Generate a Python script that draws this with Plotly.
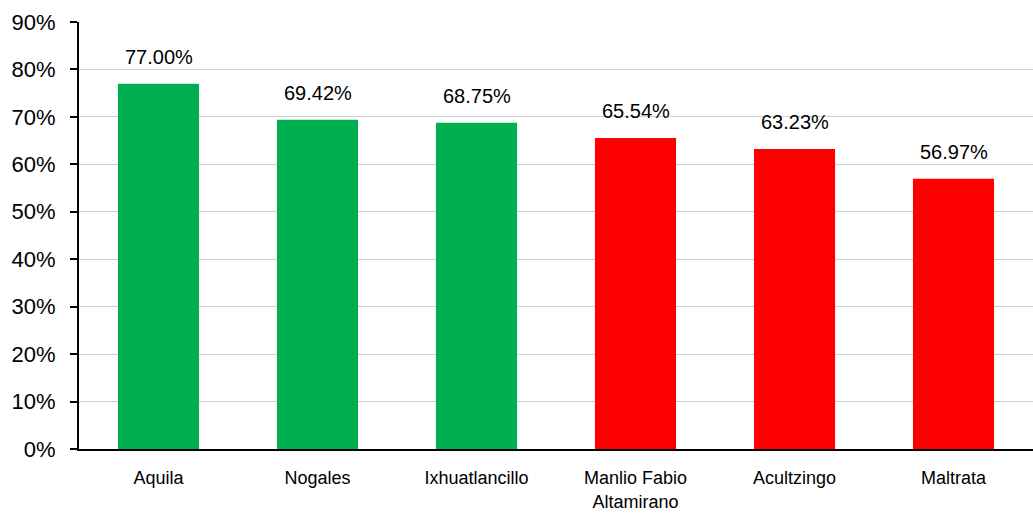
import plotly.graph_objects as go

categories = ["Aquila", "Nogales", "Ixhuatlancillo", "Manlio Fabio<br>Altamirano", "Acultzingo", "Maltrata"]
values = [77.00, 69.42, 68.75, 65.54, 63.23, 56.97]
colors = ["#00B050", "#00B050", "#00B050", "#FF0000", "#FF0000", "#FF0000"]
labels = [f"{v:.2f}%" for v in values]
ytick_vals = list(range(0, 100, 10))
ytick_text = [f"{v}%" for v in ytick_vals]

font_family = "Liberation Sans Narrow, Arial Narrow, Liberation Sans, Arial, sans-serif"

fig = go.Figure(go.Bar(x=categories, y=values, marker_color=colors, marker_line_width=0))

for c, v, t in zip(categories, values, labels):
    fig.add_annotation(x=c, y=v, text=t, showarrow=False, yanchor="bottom", yshift=14,
                       font=dict(size=20, color="#000000", family=font_family))

fig.update_layout(
    width=1033, height=516,
    margin=dict(l=79, r=0, t=22, b=67, autoexpand=False),
    plot_bgcolor="white", paper_bgcolor="white",
    bargap=0.49, showlegend=False,
    font=dict(family=font_family, color="#000000"),
)
fig.update_yaxes(range=[0, 90], tickvals=ytick_vals, ticktext=ytick_text,
                 showgrid=True, gridcolor="#D0D0D0", gridwidth=1,
                 showline=True, linecolor="#000000", linewidth=2,
                 ticks="outside", ticklen=7, tickwidth=2, tickcolor="#000000",
                 tickfont=dict(size=22, family=font_family), zeroline=False,
                 ticklabelstandoff=10)
fig.update_xaxes(showline=True, linecolor="#000000", linewidth=1.5, ticks="",
                 tickfont=dict(size=18, family=font_family), ticklabelstandoff=12)

fig.write_html("out.html", config={"displayModeBar": False},
               post_script="document.body.style.margin='0';document.body.style.overflow='hidden';")
